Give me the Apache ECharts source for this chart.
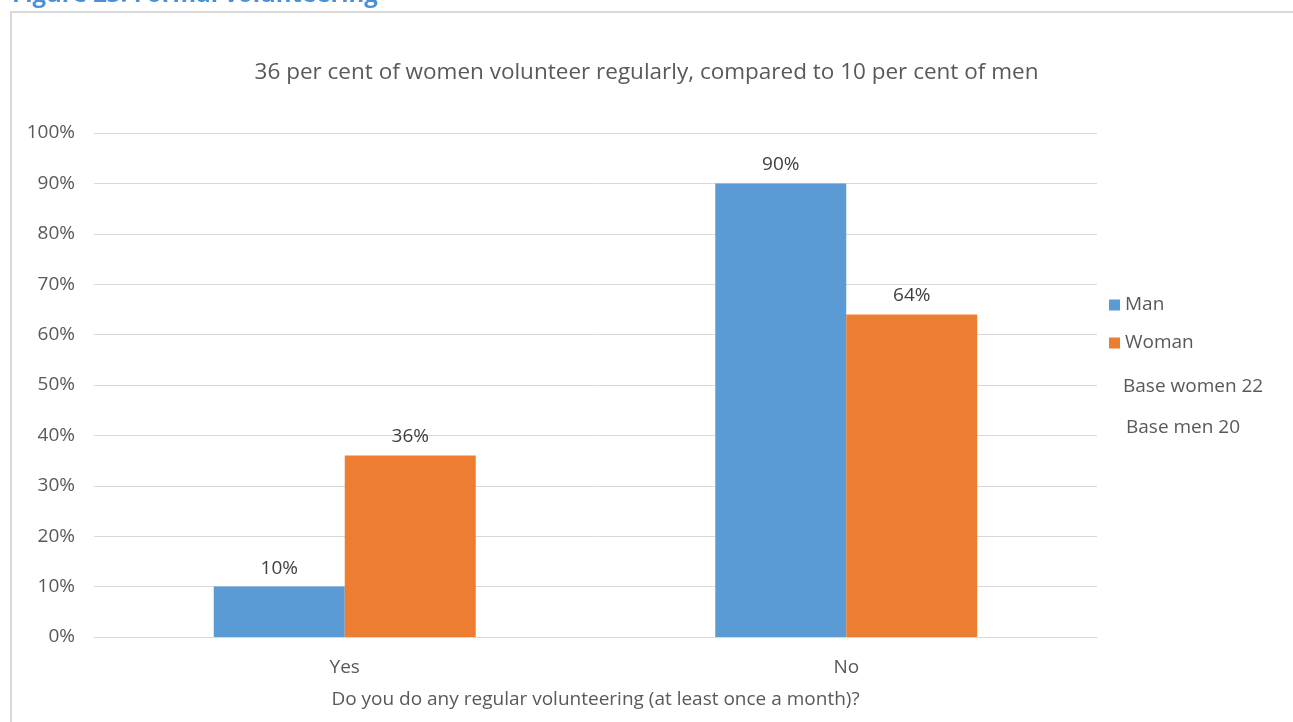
<!DOCTYPE html>
<html>
<head>
<meta charset="utf-8">
<title>Formal volunteering</title>
<script src="https://cdn.jsdelivr.net/npm/echarts@6/dist/echarts.min.js"></script>
<style>
  html, body { margin: 0; padding: 0; background: #ffffff; }
  #chart { width: 1293px; height: 722px; }
</style>
</head>
<body>
<div id="chart"></div>
<script>
// Survey answers by gender
const categories = ['Yes', 'No'];
const manValues = [10, 90];
const womanValues = [36, 64];
const seriesNames = ['Man', 'Woman'];
const yTicks = [0, 10, 20, 30, 40, 50, 60, 70, 80, 90, 100];
const baseNotes = ['Base women 22', 'Base men 20'];

const FONT = '"Open Sans", "Noto Sans", sans-serif';
const TEXT = '#595959';
const FS = 19;

const chart = echarts.init(document.getElementById('chart'), null, { renderer: 'canvas' });

const labelStyle = {
  show: true,
  position: 'top',
  distance: 9,
  formatter: p => p.value + '%',
  color: '#404040',
  fontFamily: FONT,
  fontSize: FS
};

chart.setOption({
  backgroundColor: '#ffffff',
  animation: false,
  title: {
    text: '36 per cent of women volunteer regularly, compared to 10 per cent of men',
    left: 'center',
    top: 56,
    textStyle: { color: TEXT, fontFamily: FONT, fontSize: 22.5, fontWeight: 'normal' }
  },
  legend: {
    data: seriesNames,
    orient: 'vertical',
    left: 1104,
    top: 290,
    itemWidth: 11,
    itemHeight: 11,
    itemGap: 18,
    icon: 'rect',
    textStyle: { color: TEXT, fontFamily: FONT, fontSize: FS, lineHeight: 20 }
  },
  grid: { left: 94, right: 196, top: 133, bottom: 85, containLabel: false },
  xAxis: {
    type: 'category',
    data: categories,
    name: 'Do you do any regular volunteering (at least once a month)?',
    nameLocation: 'middle',
    nameGap: 53,
    nameTextStyle: { color: TEXT, fontFamily: FONT, fontSize: FS },
    axisLine: { show: true, lineStyle: { color: '#d9d9d9', width: 1 } },
    axisTick: { show: false },
    axisLabel: { color: TEXT, fontFamily: FONT, fontSize: FS, margin: 21 }
  },
  yAxis: {
    type: 'value',
    min: yTicks[0],
    max: yTicks[yTicks.length - 1],
    interval: 10,
    axisLine: { show: false },
    axisTick: { show: false },
    splitLine: { lineStyle: { color: '#d9d9d9', width: 1 } },
    axisLabel: { color: TEXT, fontFamily: FONT, fontSize: FS, margin: 19, formatter: v => v + '%' }
  },
  series: [
    {
      name: seriesNames[0],
      type: 'bar',
      data: manValues,
      barWidth: 131,
      barGap: '0%',
      itemStyle: { color: '#5b9bd5' },
      label: labelStyle
    },
    {
      name: seriesNames[1],
      type: 'bar',
      data: womanValues,
      barWidth: 131,
      barGap: '0%',
      itemStyle: { color: '#ed7d31' },
      label: labelStyle
    }
  ],
  graphic: [
    {
      type: 'rect',
      shape: { x: 11, y: 12, width: 1300, height: 720 },
      style: { fill: 'none', stroke: '#d9d9d9', lineWidth: 2 },
      silent: true
    },
    {
      type: 'text',
      left: 12,
      top: -17,
      style: {
        text: 'Figure 23: Formal volunteering',
        fill: '#4a90d9',
        font: 'bold 24px ' + FONT
      }
    },
    {
      type: 'text',
      left: 1123,
      top: 377,
      style: { text: baseNotes[0], fill: TEXT, font: FS + 'px ' + FONT }
    },
    {
      type: 'text',
      left: 1126,
      top: 418,
      style: { text: baseNotes[1], fill: TEXT, font: FS + 'px ' + FONT }
    }
  ]
});
</script>
</body>
</html>
